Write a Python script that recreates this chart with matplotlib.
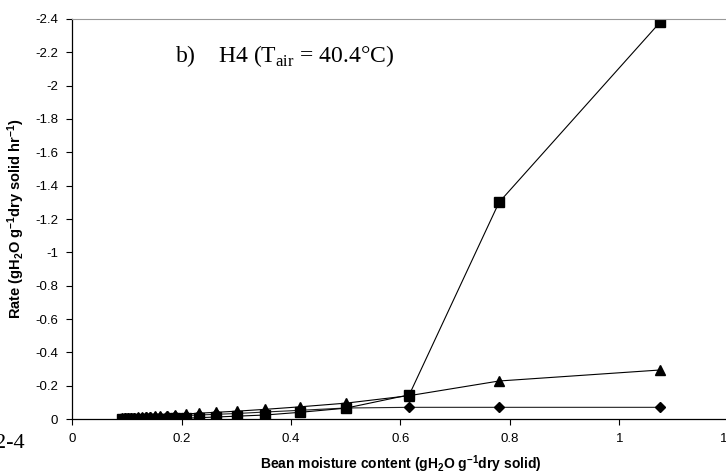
import numpy as np
import matplotlib.pyplot as plt

plt.rcParams['font.family'] = 'Liberation Sans'
plt.rcParams['mathtext.fontset'] = 'custom'
plt.rcParams['mathtext.rm'] = 'Liberation Serif'
plt.rcParams['mathtext.bf'] = 'Liberation Sans:bold'

# bean moisture content (gH2O / g dry solid)
moisture = [0.092, 0.097, 0.102, 0.108, 0.114, 0.121, 0.128, 0.135, 0.142, 0.152,
            0.161, 0.174, 0.188, 0.208, 0.232, 0.263, 0.301, 0.353, 0.416, 0.500,
            0.616, 0.780, 1.074]

# drying rates (negative = moisture loss)
rate_square = [-0.001, -0.001, -0.001, -0.001, -0.001, -0.002, -0.002, -0.002, -0.002, -0.003,
               -0.003, -0.003, -0.004, -0.005, -0.008, -0.012, -0.017, -0.024, -0.040, -0.065,
               -0.145, -1.30, -2.38]
rate_triangle = [-0.004, -0.005, -0.006, -0.007, -0.008, -0.010, -0.011, -0.013, -0.014, -0.016,
                 -0.018, -0.021, -0.025, -0.030, -0.035, -0.040, -0.047, -0.058, -0.073, -0.095,
                 -0.140, -0.228, -0.294]
rate_diamond = [-0.003, -0.004, -0.005, -0.006, -0.007, -0.008, -0.009, -0.010, -0.011, -0.013,
                -0.014, -0.016, -0.019, -0.021, -0.024, -0.028, -0.033, -0.042, -0.052, -0.066,
                -0.070, -0.070, -0.070]

xticks = [0, 0.2, 0.4, 0.6, 0.8, 1, 1.2]
xticklabels = ['0', '0.2', '0.4', '0.6', '0.8', '1', '1.2']
yticks = [0, -0.2, -0.4, -0.6, -0.8, -1, -1.2, -1.4, -1.6, -1.8, -2, -2.2, -2.4]
yticklabels = ['0', '-0.2', '-0.4', '-0.6', '-0.8', '-1', '-1.2', '-1.4', '-1.6', '-1.8', '-2', '-2.2', '-2.4']

fig = plt.figure(figsize=(7.26, 4.76), dpi=100)
ax = fig.add_axes([72/726, 57/476, 657/726, 400/476])

ax.plot(moisture, rate_diamond, color='#222222', lw=0.8, marker='D', ms=5, mfc='black', mec='black')
ax.plot(moisture, rate_triangle, color='black', lw=0.8, marker='^', ms=7, mfc='black', mec='black')
ax.plot(moisture, rate_square, color='black', lw=0.8, marker='s', ms=6.5, mfc='black', mec='black')

ax.set_xlim(0, 1.2)
ax.set_ylim(0, -2.4)
ax.set_xticks(xticks)
ax.set_xticklabels(xticklabels)
ax.set_yticks(yticks)
ax.set_yticklabels(yticklabels)
ax.tick_params(direction='out', length=4, width=0.8, labelsize=9.5, pad=6)

for s in ['left', 'bottom']:
    ax.spines[s].set_linewidth(0.9)
ax.spines['top'].set_color('#999999')
ax.spines['right'].set_visible(False)

ax.set_xlabel(r'Bean moisture content (gH$\mathbf{_2}$O g$\mathbf{^{-1}}$dry solid)',
              fontweight='bold', fontsize=10, labelpad=6)
ax.set_ylabel(r'Rate (gH$\mathbf{_2}$O g$\mathbf{^{-1}}$dry solid hr$\mathbf{^{-1}}$)',
              fontweight='bold', fontsize=10.5, labelpad=6)

fig.text(175/726, 1 - 62/476, r'b)    H4 (T$_{\mathrm{air}}$ = 40.4°C)',
         fontsize=17, fontfamily='Liberation Serif')
fig.text(25/726, 1 - 448/476, '2-4', fontsize=16, fontfamily='Liberation Serif', ha='right')

fig.savefig('out.png', dpi=100)
